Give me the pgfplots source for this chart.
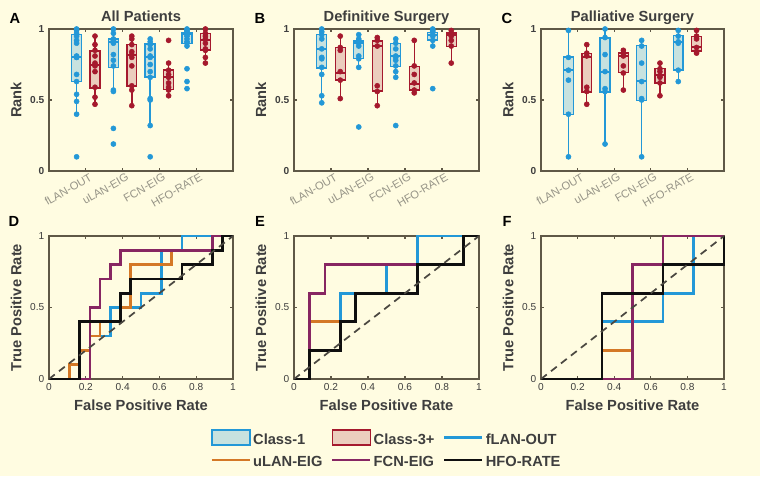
\documentclass[border=0pt]{standalone}
\usepackage{fontspec}
\setmainfont{Liberation Sans}
\usepackage{pgfplots}
\pgfplotsset{compat=1.18}
\usepgfplotslibrary{statistics}
\definecolor{bg}{RGB}{255,252,225}
\definecolor{axc}{RGB}{95,88,70}
\definecolor{txt}{RGB}{62,62,62}
\definecolor{tickgray}{RGB}{150,148,135}
\definecolor{bluec}{RGB}{35,152,215}
\definecolor{redc}{RGB}{165,25,45}
\definecolor{fillblue}{RGB}{162,209,222}
\definecolor{fillred}{RGB}{223,175,166}
\definecolor{orangec}{RGB}{212,120,38}
\definecolor{purplec}{RGB}{135,38,98}
\definecolor{blackc}{RGB}{15,15,15}
\definecolor{dashc}{RGB}{75,72,65}
\pgfplotsset{
  base/.style={scale only axis, clip=false,
    axis line style={axc, line width=1.8pt},
    tick style={axc, line width=1pt}, tick align=inside, major tick length=2.5pt,
    /pgf/number format/assume math mode=true,
    ymin=0, ymax=1, ytick={0,0.5,1},
    ylabel style={at={(axis description cs:-0.179,0.5)}, anchor=center, font=\bfseries\fontsize{11}{12}\selectfont, text=txt},
    title style={at={(axis description cs:0.5,1)}, anchor=base, yshift=-0.5pt, font=\bfseries\fontsize{11}{12}\selectfont, text=txt},
  },
  top/.style={base, height=106.5pt, xmin=0, xmax=5, xtick={1,2,3,4},
    xticklabels={fLAN-OUT,uLAN-EIG,FCN-EIG,HFO-RATE},
    xticklabel style={rotate=30, anchor=north east, xshift=2.5pt, yshift=-1pt, font=\fontsize{8.4}{9}\selectfont, text=tickgray, inner sep=1pt},
    yticklabel style={font=\bfseries\fontsize{7.6}{8}\selectfont, text=txt},
    ylabel={Rank},
    boxplot/draw direction=y,
    boxplot/box extend=0.27, boxplot/whisker extend=0.12,
    boxplot/every median/.style={line width=1.5pt},
  },
  bot/.style={base, height=107.25pt, xmin=0, xmax=1, xtick={0,0.2,0.4,0.6,0.8,1},
    ticklabel style={font=\fontsize{7.6}{8}\selectfont, text=txt},
    xlabel={False Positive Rate}, ylabel={True Positive Rate},
    xlabel style={at={(axis description cs:0.5,-0.182)}, anchor=center, font=\bfseries\fontsize{11}{12}\selectfont, text=txt},
  },
  bbox/.style={draw=bluec, fill=fillblue, fill opacity=0.6, line width=1.1pt, solid, mark=none},
  rbox/.style={draw=redc, fill=fillred, fill opacity=0.6, line width=1.1pt, solid, mark=none},
  pts/.style={only marks, mark=*, mark size=1.9pt, mark options={draw=none}},
  roc/.style={line width=2pt, mark=none},
  diag/.style={dashc, line width=1.3pt, dash pattern=on 5.5pt off 4pt, mark=none},
}
\newcommand{\bx}[7]{\addplot[#7, boxplot prepared={draw position=#1, lower whisker=#2, lower quartile=#3, median=#4, upper quartile=#5, upper whisker=#6}] coordinates {};}
\newcommand{\pp}[3]{\addplot[pts, #2] table[x expr=#1, y index=0, header=false, row sep=\\] {#3};}
\begin{document}
\begin{tikzpicture}
\fill[bg] (0pt,0pt) rectangle (570pt,357pt);
\useasboundingbox (0pt,0pt) rectangle (570pt,357pt);
% ---------- A ----------
\begin{axis}[top, at={(36.75pt,228.75pt)}, anchor=south west, width=138pt, title={All Patients}]
\pp{0.75}{bluec}{1.0\\0.99\\0.97\\0.95\\0.92\\0.90\\0.81\\0.80\\0.80\\0.68\\0.63\\0.54\\0.49\\0.40\\0.10\\}
\bx{0.75}{0.40}{0.63}{0.806}{0.96}{1.0}{bbox}
\pp{1.25}{redc}{0.95\\0.89\\0.85\\0.81\\0.76\\0.74\\0.70\\0.59\\0.52\\0.47\\}
\bx{1.25}{0.467}{0.585}{0.746}{0.846}{0.953}{rbox}
\pp{1.75}{bluec}{1.0\\0.97\\0.93\\0.92\\0.91\\0.90\\0.82\\0.78\\0.74\\0.57\\0.56\\0.30\\0.19\\}
\bx{1.75}{0.56}{0.73}{0.91}{0.93}{1.0}{bbox}
\pp{2.25}{redc}{0.95\\0.93\\0.89\\0.84\\0.82\\0.80\\0.74\\0.60\\0.57\\0.46\\}
\bx{2.25}{0.46}{0.597}{0.82}{0.889}{0.948}{rbox}
\pp{2.75}{bluec}{0.93\\0.91\\0.89\\0.86\\0.81\\0.80\\0.75\\0.70\\0.66\\0.51\\0.50\\0.32\\0.10\\}
\bx{2.75}{0.322}{0.661}{0.806}{0.893}{0.93}{bbox}
\pp{3.25}{redc}{0.92\\0.76\\0.71\\0.68\\0.66\\0.62\\0.59\\0.57\\0.53\\}
\bx{3.25}{0.526}{0.573}{0.661}{0.711}{0.763}{rbox}
\pp{3.75}{bluec}{1.0\\0.99\\0.98\\0.97\\0.96\\0.95\\0.93\\0.91\\0.90\\0.88\\0.72\\0.63\\0.58\\}
\bx{3.75}{0.88}{0.898}{0.964}{0.976}{1.0}{bbox}
\pp{4.25}{redc}{1.0\\0.97\\0.95\\0.93\\0.90\\0.86\\0.85\\0.80\\0.76\\}
\bx{4.25}{0.763}{0.851}{0.924}{0.969}{1.0}{rbox}
\end{axis}
% ---------- B ----------
\begin{axis}[top, at={(220.5pt,228.75pt)}, anchor=south west, width=138.75pt, title={Definitive Surgery}]
\pp{0.75}{bluec}{1.0\\0.98\\0.96\\0.93\\0.86\\0.80\\0.79\\0.73\\0.68\\0.53\\0.48\\}
\bx{0.75}{0.481}{0.727}{0.858}{0.96}{1.0}{bbox}
\pp{1.25}{redc}{0.95\\0.87\\0.85\\0.70\\0.64\\0.51\\}
\bx{1.25}{0.51}{0.642}{0.69}{0.87}{0.953}{rbox}
\pp{1.75}{bluec}{0.96\\0.93\\0.92\\0.90\\0.88\\0.81\\0.79\\0.73\\0.31\\}
\bx{1.75}{0.727}{0.791}{0.903}{0.917}{0.964}{bbox}
\pp{2.25}{redc}{0.94\\0.92\\0.88\\0.60\\0.56\\0.46\\}
\bx{2.25}{0.46}{0.562}{0.881}{0.917}{0.94}{rbox}
\pp{2.75}{bluec}{0.93\\0.90\\0.86\\0.81\\0.80\\0.78\\0.74\\0.70\\0.66\\0.32\\}
\bx{2.75}{0.656}{0.735}{0.808}{0.898}{0.936}{bbox}
\pp{3.25}{redc}{0.92\\0.74\\0.68\\0.62\\0.57\\0.55\\}
\bx{3.25}{0.547}{0.569}{0.616}{0.735}{0.917}{rbox}
\pp{3.75}{bluec}{1.0\\0.99\\0.98\\0.96\\0.95\\0.92\\0.88\\0.58\\}
\bx{3.75}{0.882}{0.924}{0.96}{0.976}{1.0}{bbox}
\pp{4.25}{redc}{0.99\\0.97\\0.95\\0.92\\0.88\\0.76\\}
\bx{4.25}{0.763}{0.877}{0.955}{0.971}{0.993}{rbox}
\end{axis}
% ---------- C ----------
\begin{axis}[top, at={(405.75pt,228.75pt)}, anchor=south west, width=137.25pt, title={Palliative Surgery}]
\pp{0.75}{bluec}{0.99\\0.80\\0.71\\0.64\\0.40\\0.10\\}
\bx{0.75}{0.097}{0.398}{0.713}{0.803}{0.988}{bbox}
\pp{1.25}{redc}{0.89\\0.83\\0.81\\0.59\\0.56\\0.47\\}
\bx{1.25}{0.467}{0.557}{0.806}{0.827}{0.889}{rbox}
\pp{1.75}{bluec}{1.0\\0.94\\0.82\\0.70\\0.58\\0.56\\0.19\\}
\bx{1.75}{0.187}{0.557}{0.697}{0.936}{1.0}{bbox}
\pp{2.25}{redc}{0.85\\0.83\\0.81\\0.74\\0.69\\0.57\\}
\bx{2.25}{0.566}{0.692}{0.81}{0.83}{0.851}{rbox}
\pp{2.75}{bluec}{0.92\\0.88\\0.76\\0.63\\0.51\\0.50\\0.10\\}
\bx{2.75}{0.097}{0.498}{0.633}{0.884}{0.917}{bbox}
\pp{3.25}{redc}{0.76\\0.72\\0.70\\0.67\\0.66\\0.62\\0.53\\}
\bx{3.25}{0.531}{0.621}{0.673}{0.723}{0.763}{rbox}
\pp{3.75}{bluec}{0.99\\0.95\\0.91\\0.90\\0.71\\0.63\\}
\bx{3.75}{0.628}{0.711}{0.908}{0.953}{0.988}{bbox}
\pp{4.25}{redc}{0.99\\0.95\\0.93\\0.87\\0.84\\0.83\\}
\bx{4.25}{0.827}{0.844}{0.87}{0.948}{0.988}{rbox}
\end{axis}
% ---------- D ----------
\begin{axis}[bot, at={(36.75pt,72.75pt)}, anchor=south west, width=138pt]
\addplot[roc, bluec] coordinates {(0,0)(0.222,0)(0.222,0.3)(0.333,0.3)(0.333,0.5)(0.5,0.5)(0.5,0.6)(0.611,0.6)(0.611,0.9)(0.722,0.9)(0.722,1)(1,1)};
\addplot[roc, orangec] coordinates {(0,0)(0.111,0)(0.111,0.1)(0.167,0.1)(0.167,0.2)(0.222,0.2)(0.222,0.3)(0.278,0.3)(0.278,0.4)(0.389,0.4)(0.389,0.5)(0.444,0.5)(0.444,0.8)(0.667,0.8)(0.667,0.9)(0.889,0.9)(0.889,1)(1,1)};
\addplot[roc, purplec] coordinates {(0,0)(0.222,0)(0.222,0.5)(0.278,0.5)(0.278,0.7)(0.333,0.7)(0.333,0.8)(0.389,0.8)(0.389,0.9)(0.889,0.9)(0.889,1)(1,1)};
\addplot[roc, blackc] coordinates {(0,0)(0.167,0)(0.167,0.4)(0.389,0.4)(0.389,0.6)(0.444,0.6)(0.444,0.7)(0.722,0.7)(0.722,0.8)(0.889,0.8)(0.889,0.9)(0.944,0.9)(0.944,1)(1,1)};
\addplot[diag] coordinates {(0,0)(1,1)};
\end{axis}
% ---------- E ----------
\begin{axis}[bot, at={(220.5pt,72.75pt)}, anchor=south west, width=138.75pt,
  legend columns=3, legend cell align=left,
  legend style={at={(axis description cs:0.5,-0.496)}, anchor=center, draw=none, fill=none, inner sep=0pt,
    font=\bfseries\fontsize{11}{12}\selectfont, text=txt, row sep=4.5pt, nodes={inner sep=1.5pt},
    /tikz/every even column/.append style={column sep=5pt}}]
\addlegendimage{legend image code/.code={\draw[draw=bluec,fill=fillblue,fill opacity=0.6,line width=1.3pt] (0pt,-3.5pt) rectangle (28.5pt,7.5pt);}}
\addlegendentry{Class-1}
\addlegendimage{legend image code/.code={\draw[draw=redc,fill=fillred,fill opacity=0.6,line width=1.3pt] (0pt,-3.5pt) rectangle (28.5pt,7.5pt);}}
\addlegendentry{Class-3+}
\addlegendimage{legend image code/.code={\draw[bluec,line width=2pt] (0pt,2pt) -- (28.5pt,2pt);}}
\addlegendentry{fLAN-OUT}
\addlegendimage{legend image code/.code={\draw[orangec,line width=2pt] (0pt,2pt) -- (28.5pt,2pt);}}
\addlegendentry{uLAN-EIG}
\addlegendimage{legend image code/.code={\draw[purplec,line width=2pt] (0pt,2pt) -- (28.5pt,2pt);}}
\addlegendentry{FCN-EIG}
\addlegendimage{legend image code/.code={\draw[blackc,line width=2pt] (0pt,2pt) -- (28.5pt,2pt);}}
\addlegendentry{HFO-RATE}
\addplot[roc, bluec, forget plot] coordinates {(0,0)(0.083,0)(0.083,0.2)(0.25,0.2)(0.25,0.6)(0.5,0.6)(0.5,0.8)(0.667,0.8)(0.667,1)(1,1)};
\addplot[roc, orangec, forget plot] coordinates {(0,0)(0.083,0)(0.083,0.4)(0.333,0.4)(0.333,0.6)(0.667,0.6)(0.667,0.8)(0.917,0.8)(0.917,1)(1,1)};
\addplot[roc, purplec, forget plot] coordinates {(0,0)(0.083,0)(0.083,0.6)(0.167,0.6)(0.167,0.8)(0.917,0.8)(0.917,1)(1,1)};
\addplot[roc, blackc, forget plot] coordinates {(0,0)(0.083,0)(0.083,0.2)(0.25,0.2)(0.25,0.4)(0.333,0.4)(0.333,0.6)(0.667,0.6)(0.667,0.8)(0.917,0.8)(0.917,1)(1,1)};
\addplot[diag, forget plot] coordinates {(0,0)(1,1)};
\end{axis}
% ---------- F ----------
\begin{axis}[bot, at={(405.75pt,72.75pt)}, anchor=south west, width=137.25pt]
\addplot[roc, bluec] coordinates {(0,0)(0.333,0)(0.333,0.4)(0.667,0.4)(0.667,0.6)(0.833,0.6)(0.833,1)(1,1)};
\addplot[roc, orangec] coordinates {(0,0)(0.333,0)(0.333,0.2)(0.5,0.2)(0.5,0.8)(0.667,0.8)(0.667,1)(1,1)};
\addplot[roc, purplec] coordinates {(0,0)(0.5,0)(0.5,0.8)(0.667,0.8)(0.667,1)(1,1)};
\addplot[roc, blackc] coordinates {(0,0)(0.333,0)(0.333,0.6)(0.667,0.6)(0.667,0.8)(1,0.8)(1,1)};
\addplot[diag] coordinates {(0,0)(1,1)};
\end{axis}
% ---------- panel letters ----------
\begin{scope}[x=0.75pt,y=0.75pt,every node/.style={font=\bfseries\fontsize{11}{12}\selectfont, text=black}]
\node at (15,458) {A};
\node at (260,458) {B};
\node at (507,458) {C};
\node at (14,255) {D};
\node at (260,255) {E};
\node at (507,255) {F};
\end{scope}
\end{tikzpicture}
\end{document}
